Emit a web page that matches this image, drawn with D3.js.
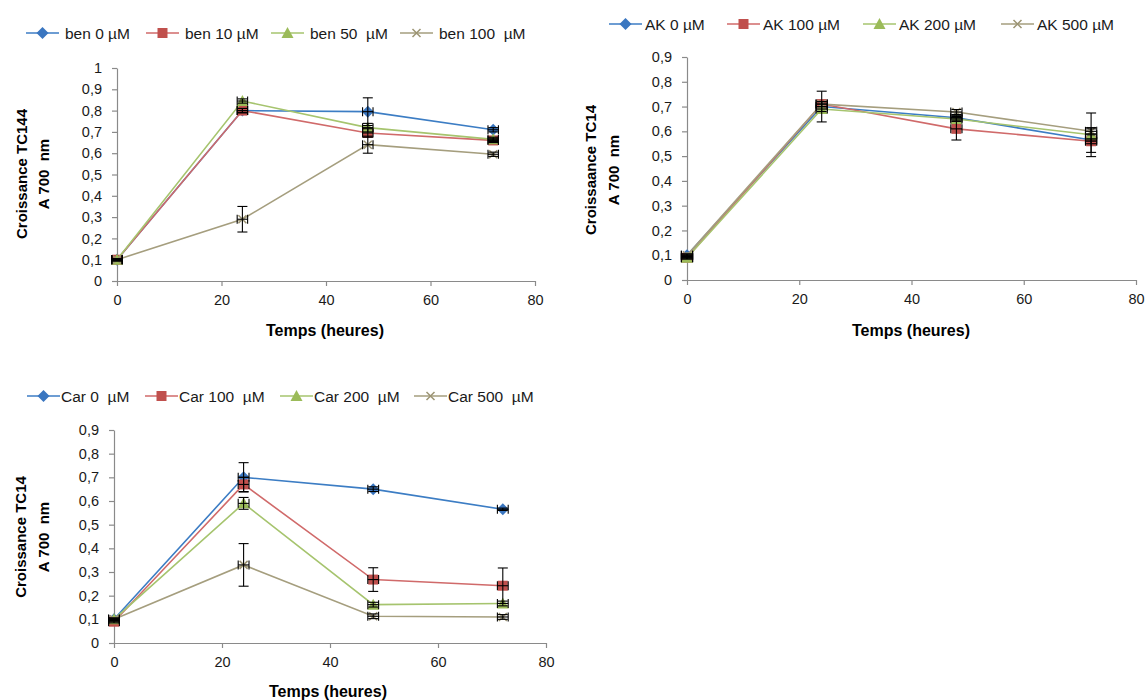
<!DOCTYPE html>
<html>
<head>
<meta charset="utf-8">
<script src="https://cdn.jsdelivr.net/npm/d3@7"></script>
<style>
  html, body { margin: 0; padding: 0; background: #fff; }
  svg { display: block; }
  text { font-family: "Liberation Sans", Arial, sans-serif; white-space: pre; fill: #1a1a1a; }
</style>
</head>
<body>
<svg id="chart" width="1146" height="700"></svg>
<script>
// ---------- DATA ----------
const hours = [0, 24, 48, 72];
const xTicks = [0, 20, 40, 60, 80];
const yTicks1 = [0, 0.1, 0.2, 0.3, 0.4, 0.5, 0.6, 0.7, 0.8, 0.9, 1];
const yTicks09 = [0, 0.1, 0.2, 0.3, 0.4, 0.5, 0.6, 0.7, 0.8, 0.9];

// Panel 1 : ben
const benLabels = ["ben 0 µM", "ben 10 µM", "ben 50  µM", "ben 100  µM"];
const ben0   = [0.10, 0.80, 0.795, 0.71];
const ben10  = [0.10, 0.80, 0.695, 0.66];
const ben50  = [0.10, 0.845, 0.72, 0.665];
const ben100 = [0.10, 0.29, 0.64, 0.595];
const ben0Err   = [0.005, 0.01, 0.065, 0.01];
const ben10Err  = [0.005, 0.01, 0.02, 0.01];
const ben50Err  = [0.005, 0.01, 0.02, 0.01];
const ben100Err = [0.005, 0.06, 0.04, 0.01];

// Panel 2 : AK
const akLabels = ["AK 0 µM", "AK 100 µM", "AK 200 µM", "AK 500 µM"];
const ak0   = [0.10, 0.70, 0.655, 0.565];
const ak100 = [0.09, 0.71, 0.61, 0.56];
const ak200 = [0.09, 0.69, 0.65, 0.586];
const ak500 = [0.10, 0.71, 0.678, 0.60];
const ak0Err   = [0.005, 0.062, 0.01, 0.05];
const ak100Err = [0.005, 0.01, 0.045, 0.01];
const ak200Err = [0.005, 0.01, 0.01, 0.088];
const ak500Err = [0.005, 0.01, 0.01, 0.01];

// Panel 3 : Car
const carLabels = ["Car 0  µM", "Car 100  µM", "Car 200  µM", "Car 500  µM"];
const car0   = [0.10, 0.70, 0.65, 0.565];
const car100 = [0.09, 0.67, 0.268, 0.242];
const car200 = [0.10, 0.59, 0.162, 0.167];
const car500 = [0.10, 0.33, 0.113, 0.11];
const car0Err   = [0.005, 0.062, 0.01, 0.005];
const car100Err = [0.005, 0.03, 0.05, 0.075];
const car200Err = [0.005, 0.025, 0.01, 0.01];
const car500Err = [0.005, 0.09, 0.01, 0.01];

const xErrHours = 1;

// ---------- STYLE ----------
const lineColors   = ["#3c7dc4", "#d06a6a", "#a6c46e", "#a59e7e"];
const markerColors = ["#3a76c0", "#c0504d", "#9bbb59", "#9c9473"];
const markerTypes  = ["diamond", "square", "triangle", "cross"];

const svg = d3.select("#chart");
const fmt = d => d === 0 ? "0" : (d === 1 ? "1" : d3.format(".1f")(d).replace(".", ","));

function markerPath(type) {
  if (type === "diamond") return "M0,-6L6,0L0,6L-6,0Z";
  if (type === "square") return "M-5,-5H5V5H-5Z";
  if (type === "triangle") return "M0,-6L6,5L-6,5Z";
  return "M-4,-4L4,4M-4,4L4,-4";
}
function drawMarker(g, type, i, x, y) {
  const p = g.append("path").attr("d", markerPath(type)).attr("transform", `translate(${x},${y})`);
  if (type === "cross") p.attr("fill", "none").attr("stroke", markerColors[i]).attr("stroke-width", 1.5);
  else p.attr("fill", markerColors[i]);
}

function panel(cfg) {
  const g = svg.append("g");
  const x = d3.scaleLinear().domain([0, 80]).range(cfg.xRange);
  const y = d3.scaleLinear().domain([0, cfg.yMax]).range(cfg.yRange);

  // axes
  const ax = g.append("g").attr("transform", `translate(0,${cfg.yRange[0]})`)
    .call(d3.axisBottom(x).tickValues(xTicks).tickSize(5).tickPadding(9).tickSizeOuter(0));
  const ay = g.append("g").attr("transform", `translate(${cfg.xRange[0]},0)`)
    .call(d3.axisLeft(y).tickValues(cfg.yTicks).tickFormat(fmt).tickSize(5).tickPadding(10).tickSizeOuter(0));
  [ax, ay].forEach(a => {
    a.selectAll("path,line").attr("stroke", "#8a8a8a").attr("stroke-width", 1.2);
    a.selectAll("text").style("font-size", "14.5px").style("fill", "#1a1a1a");
  });

  // lines + markers per series
  const line = d3.line().x((d, j) => x(hours[j])).y(d => y(d));
  cfg.series.forEach((s, i) => {
    g.append("path").datum(s).attr("d", line).attr("fill", "none")
      .attr("stroke", lineColors[i]).attr("stroke-width", 1.6);
    s.forEach((v, j) => drawMarker(g, markerTypes[i], i, x(hours[j]), y(v)));
  });

  // error bars
  const eg = g.append("g").attr("stroke", "#000").attr("stroke-width", 1.1);
  cfg.series.forEach((s, i) => {
    s.forEach((v, j) => {
      const cx = x(hours[j]), e = cfg.errs[i][j];
      const y1 = y(v + e), y2 = y(v - e);
      eg.append("line").attr("x1", cx).attr("x2", cx).attr("y1", y1).attr("y2", y2);
      eg.append("line").attr("x1", cx - 5).attr("x2", cx + 5).attr("y1", y1).attr("y2", y1);
      eg.append("line").attr("x1", cx - 5).attr("x2", cx + 5).attr("y1", y2).attr("y2", y2);
      const xl = x(hours[j] - xErrHours), xr = x(hours[j] + xErrHours), cy = y(v);
      eg.append("line").attr("x1", xl).attr("x2", xr).attr("y1", cy).attr("y2", cy);
      eg.append("line").attr("x1", xl).attr("x2", xl).attr("y1", cy - 4.5).attr("y2", cy + 4.5);
      eg.append("line").attr("x1", xr).attr("x2", xr).attr("y1", cy - 4.5).attr("y2", cy + 4.5);
    });
  });

  // y label
  cfg.yLabel.forEach((t, k) => {
    g.append("text")
      .attr("transform", `translate(${cfg.yLabelX[k]},${cfg.yLabelY}) rotate(-90)`)
      .attr("text-anchor", "middle").attr("dominant-baseline", "central")
      .style("font-size", "15px").style("font-weight", "bold").style("fill", "#000").text(t);
  });
  // x label
  g.append("text").attr("x", cfg.xLabelPos[0]).attr("y", cfg.xLabelPos[1])
    .attr("text-anchor", "middle").attr("dominant-baseline", "central")
    .style("font-size", "16px").style("font-weight", "bold").style("fill", "#000").text("Temps (heures)");

  // legend
  const ly = cfg.legendY;
  cfg.labels.forEach((lab, i) => {
    const lx = cfg.legendX[i];
    g.append("line").attr("x1", lx).attr("x2", lx + 33).attr("y1", ly).attr("y2", ly)
      .attr("stroke", lineColors[i]).attr("stroke-width", 1.6);
    drawMarker(g, markerTypes[i], i, lx + 16.5, ly);
    g.append("text").attr("x", lx + cfg.legendTextOffset).attr("y", ly).attr("dominant-baseline", "central")
      .style("font-size", "15.5px").text(lab);
  });
}

panel({
  xRange: [117, 535], yRange: [281, 68], yMax: 1, yTicks: yTicks1,
  series: [ben0, ben10, ben50, ben100], errs: [ben0Err, ben10Err, ben50Err, ben100Err],
  labels: benLabels, legendX: [26, 146, 271, 400], legendY: 33, legendTextOffset: 39,
  yLabel: ["Croissance TC144", "A 700  nm"], yLabelX: [21, 43], yLabelY: 174,
  xLabelPos: [325, 330]
});
panel({
  xRange: [687, 1136], yRange: [280, 57], yMax: 0.9, yTicks: yTicks09,
  series: [ak0, ak100, ak200, ak500], errs: [ak0Err, ak100Err, ak200Err, ak500Err],
  labels: akLabels, legendX: [609, 727, 863, 1001], legendY: 24, legendTextOffset: 36,
  yLabel: ["Croissaance TC14", "A 700  nm"], yLabelX: [590, 613], yLabelY: 170,
  xLabelPos: [911, 330]
});
panel({
  xRange: [114, 546], yRange: [643, 430], yMax: 0.9, yTicks: yTicks09,
  series: [car0, car100, car200, car500], errs: [car0Err, car100Err, car200Err, car500Err],
  labels: carLabels, legendX: [27, 145, 280, 414], legendY: 396, legendTextOffset: 34,
  yLabel: ["Croissance TC14", "A 700  nm"], yLabelX: [20, 43], yLabelY: 537,
  xLabelPos: [328, 691]
});
</script>
</body>
</html>
